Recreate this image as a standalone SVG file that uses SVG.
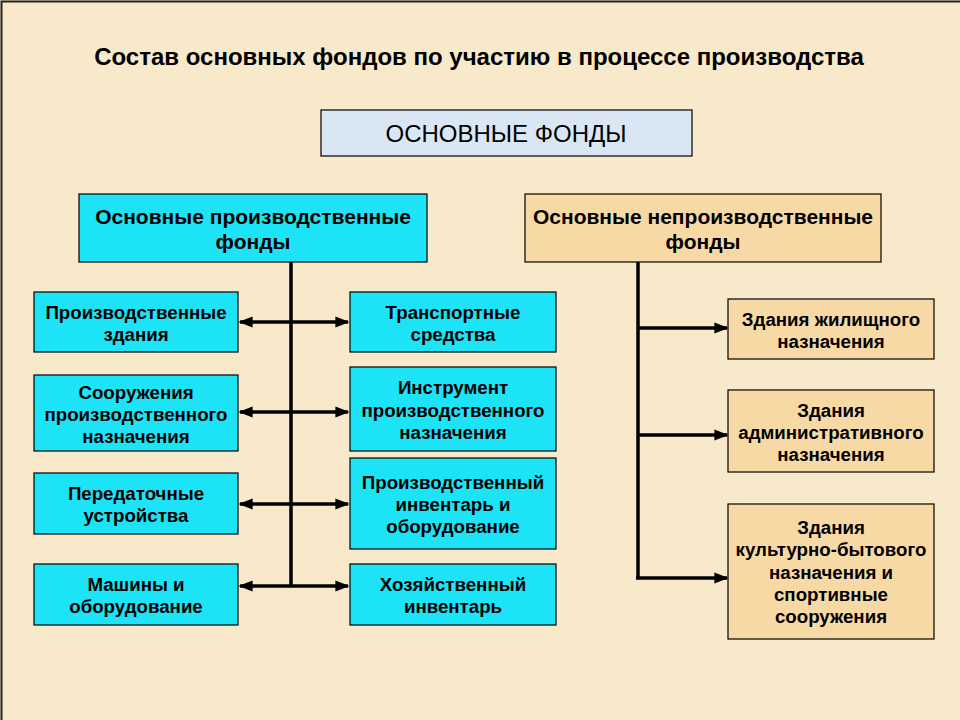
<svg xmlns="http://www.w3.org/2000/svg" width="960" height="720" viewBox="0 0 960 720">
<defs>
<marker id="ah" viewBox="0 0 10 10" refX="9" refY="5" markerWidth="4" markerHeight="4" orient="auto-start-reverse">
<path d="M0,1 L10,5 L0,9 z" fill="#000"/>
</marker>
<style>
.t{font-family:"Liberation Sans",Arial,sans-serif;font-weight:bold;font-size:18.7px;text-anchor:middle;fill:#000}
.tb{font-family:"Liberation Sans",Arial,sans-serif;font-weight:bold;font-size:21px;text-anchor:middle;fill:#000}
.cy{fill:#1de3f7;stroke:#000;stroke-width:1.2}
.tn{fill:#f7d9a5;stroke:#000;stroke-width:1.2}
.ln{stroke:#000;stroke-width:3.5;fill:none}
.ar{stroke:#000;stroke-width:3.5;fill:none;marker-end:url(#ah)}
.ar2{stroke:#000;stroke-width:3.5;fill:none;marker-end:url(#ah);marker-start:url(#ah)}
</style>
</defs>
<rect x="0" y="0" width="960" height="720" fill="#f8e9ca"/>
<path d="M1.5,720 V1.5 H960" stroke="#222" stroke-width="2" fill="none"/>
<text x="479" y="65" font-family="Liberation Sans,Arial,sans-serif" font-weight="bold" font-size="24" text-anchor="middle">Состав основных фондов по участию в процессе производства</text>

<g id="connectors">
<line class="ln" x1="291" y1="262" x2="291" y2="586"/>
<line class="ar2" x1="240" y1="322" x2="348" y2="322"/>
<line class="ar2" x1="240" y1="412" x2="348" y2="412"/>
<line class="ar2" x1="240" y1="504" x2="348" y2="504"/>
<line class="ar2" x1="240" y1="586" x2="348" y2="586"/>
<line class="ln" x1="638" y1="262" x2="638" y2="579"/>
<line class="ar" x1="638" y1="328" x2="727" y2="328"/>
<line class="ar" x1="638" y1="435" x2="727" y2="435"/>
<line class="ar" x1="636" y1="578" x2="727" y2="578"/>
</g>

<g id="root">
<rect x="321" y="110" width="371" height="46" fill="#d9e7f5" stroke="#000" stroke-width="1.2"/>
<text x="506" y="142" font-family="Liberation Sans,Arial,sans-serif" font-size="24" text-anchor="middle">ОСНОВНЫЕ ФОНДЫ</text>
</g>

<g id="prod">
<rect class="cy" x="79" y="194" width="348" height="68"/>
<text class="tb" x="253" y="224">Основные производственные</text>
<text class="tb" x="253" y="249">фонды</text>
</g>
<g id="nonprod">
<rect class="tn" x="525" y="194" width="356" height="68"/>
<text class="tb" x="703" y="224">Основные непроизводственные</text>
<text class="tb" x="703" y="249">фонды</text>
</g>

<g id="l1">
<rect class="cy" x="34" y="292" width="204" height="60"/>
<text class="t" x="136" y="319">Производственные</text>
<text class="t" x="136" y="341">здания</text>
</g>
<g id="l2">
<rect class="cy" x="34" y="375" width="204" height="76"/>
<text class="t" x="136" y="399">Сооружения</text>
<text class="t" x="136" y="421">производственного</text>
<text class="t" x="136" y="443">назначения</text>
</g>
<g id="l3">
<rect class="cy" x="34" y="473" width="204" height="61"/>
<text class="t" x="136" y="500">Передаточные</text>
<text class="t" x="136" y="522">устройства</text>
</g>
<g id="l4">
<rect class="cy" x="34" y="564" width="204" height="61"/>
<text class="t" x="136" y="591">Машины и</text>
<text class="t" x="136" y="613">оборудование</text>
</g>

<g id="r1">
<rect class="cy" x="350" y="292" width="206" height="60"/>
<text class="t" x="453" y="319">Транспортные</text>
<text class="t" x="453" y="341">средства</text>
</g>
<g id="r2">
<rect class="cy" x="350" y="367" width="206" height="84"/>
<text class="t" x="453" y="394">Инструмент</text>
<text class="t" x="453" y="417">производственного</text>
<text class="t" x="453" y="439">назначения</text>
</g>
<g id="r3">
<rect class="cy" x="350" y="458" width="206" height="91"/>
<text class="t" x="453" y="489">Производственный</text>
<text class="t" x="453" y="511">инвентарь и</text>
<text class="t" x="453" y="533">оборудование</text>
</g>
<g id="r4">
<rect class="cy" x="350" y="564" width="206" height="61"/>
<text class="t" x="453" y="591">Хозяйственный</text>
<text class="t" x="453" y="613">инвентарь</text>
</g>

<g id="n1">
<rect class="tn" x="728" y="299" width="206" height="60"/>
<text class="t" x="831" y="326">Здания жилищного</text>
<text class="t" x="831" y="348">назначения</text>
</g>
<g id="n2">
<rect class="tn" x="728" y="390" width="206" height="82"/>
<text class="t" x="831" y="417">Здания</text>
<text class="t" x="831" y="439">административного</text>
<text class="t" x="831" y="461">назначения</text>
</g>
<g id="n3">
<rect class="tn" x="728" y="504" width="206" height="135"/>
<text class="t" x="831" y="534">Здания</text>
<text class="t" x="831" y="556">культурно-бытового</text>
<text class="t" x="831" y="579">назначения и</text>
<text class="t" x="831" y="601">спортивные</text>
<text class="t" x="831" y="623">сооружения</text>
</g>
</svg>
